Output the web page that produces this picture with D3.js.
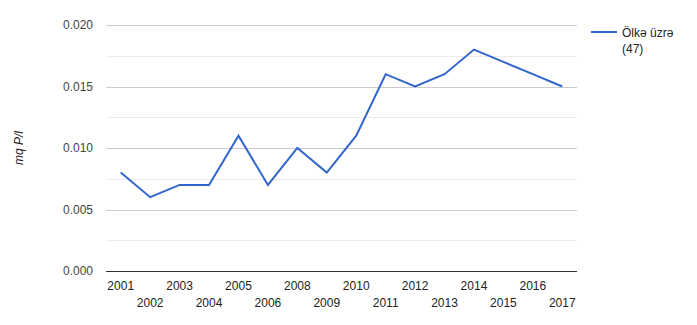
<!DOCTYPE html>
<html>
<head>
<meta charset="utf-8">
<script src="https://cdn.jsdelivr.net/npm/d3@7"></script>
<style>
  body { margin: 0; background: #fff; }
  text { font-family: Arial, "Liberation Sans", sans-serif; }
</style>
</head>
<body>
<svg width="697" height="325"></svg>
<script>
// data
var years = ["2001", "2002", "2003", "2004", "2005", "2006", "2008", "2009",
             "2010", "2011", "2012", "2013", "2014", "2015", "2016", "2017"];
var values = [0.008, 0.006, 0.007, 0.007, 0.011, 0.007, 0.010, 0.008,
              0.011, 0.016, 0.015, 0.016, 0.018, 0.017, 0.016, 0.015];
var majorTicks = [0, 0.005, 0.010, 0.015, 0.020];
var minorTicks = [0.0025, 0.0075, 0.0125, 0.0175];
var seriesName = ["Ölkə üzrə", "(47)"];

var svg = d3.select("svg"),
    plotLeft = 106, plotRight = 577, plotTop = 25, plotBottom = 271;

var x = d3.scalePoint().domain(years).range([plotLeft, plotRight]).padding(0.5);
var y = d3.scaleLinear().domain([0, 0.02]).range([plotBottom, plotTop]);

// gridlines
svg.selectAll(".minor")
    .data(minorTicks)
    .enter().append("line")
    .attr("x1", plotLeft).attr("x2", plotRight)
    .attr("y1", function (d) { return Math.round(y(d)) + 0.5; })
    .attr("y2", function (d) { return Math.round(y(d)) + 0.5; })
    .attr("stroke", "#ebebeb");

svg.selectAll(".major")
    .data(majorTicks.slice(1))
    .enter().append("line")
    .attr("x1", plotLeft).attr("x2", plotRight)
    .attr("y1", function (d) { return Math.round(y(d)) + 0.5; })
    .attr("y2", function (d) { return Math.round(y(d)) + 0.5; })
    .attr("stroke", "#cccccc");

// y tick labels
svg.selectAll(".ylab")
    .data(majorTicks)
    .enter().append("text")
    .attr("x", 93)
    .attr("y", function (d) { return y(d) + 4; })
    .attr("text-anchor", "end")
    .attr("font-size", 12)
    .attr("fill", "#444")
    .text(function (d) { return d3.format(".3f")(d); });

// y axis title
svg.append("text")
    .attr("transform", "translate(23,148) rotate(-90)")
    .attr("text-anchor", "middle")
    .attr("font-size", 12)
    .attr("font-style", "italic")
    .attr("fill", "#222")
    .text("mq P/l");

// x tick labels, alternating rows
svg.selectAll(".xlab")
    .data(years)
    .enter().append("text")
    .attr("x", function (d) { return x(d); })
    .attr("y", function (d, i) { return i % 2 === 0 ? 290 : 307; })
    .attr("text-anchor", "middle")
    .attr("font-size", 12)
    .attr("fill", "#222")
    .text(function (d) { return d; });

// line
var line = d3.line()
    .x(function (d, i) { return x(years[i]); })
    .y(function (d) { return y(d); });

svg.append("path")
    .datum(values)
    .attr("d", line)
    .attr("fill", "none")
    .attr("stroke", "#3366cc")
    .attr("stroke-width", 2);

// baseline
svg.append("line")
    .attr("x1", plotLeft).attr("x2", plotRight)
    .attr("y1", plotBottom + 0.5).attr("y2", plotBottom + 0.5)
    .attr("stroke", "#333");

// legend
svg.append("line")
    .attr("x1", 591).attr("x2", 617)
    .attr("y1", 32).attr("y2", 32)
    .attr("stroke", "#3366cc")
    .attr("stroke-width", 2);

svg.selectAll(".leg")
    .data(seriesName)
    .enter().append("text")
    .attr("x", 622)
    .attr("y", function (d, i) { return 37 + i * 16; })
    .attr("font-size", 12)
    .attr("fill", "#222")
    .text(function (d) { return d; });
</script>
</body>
</html>
